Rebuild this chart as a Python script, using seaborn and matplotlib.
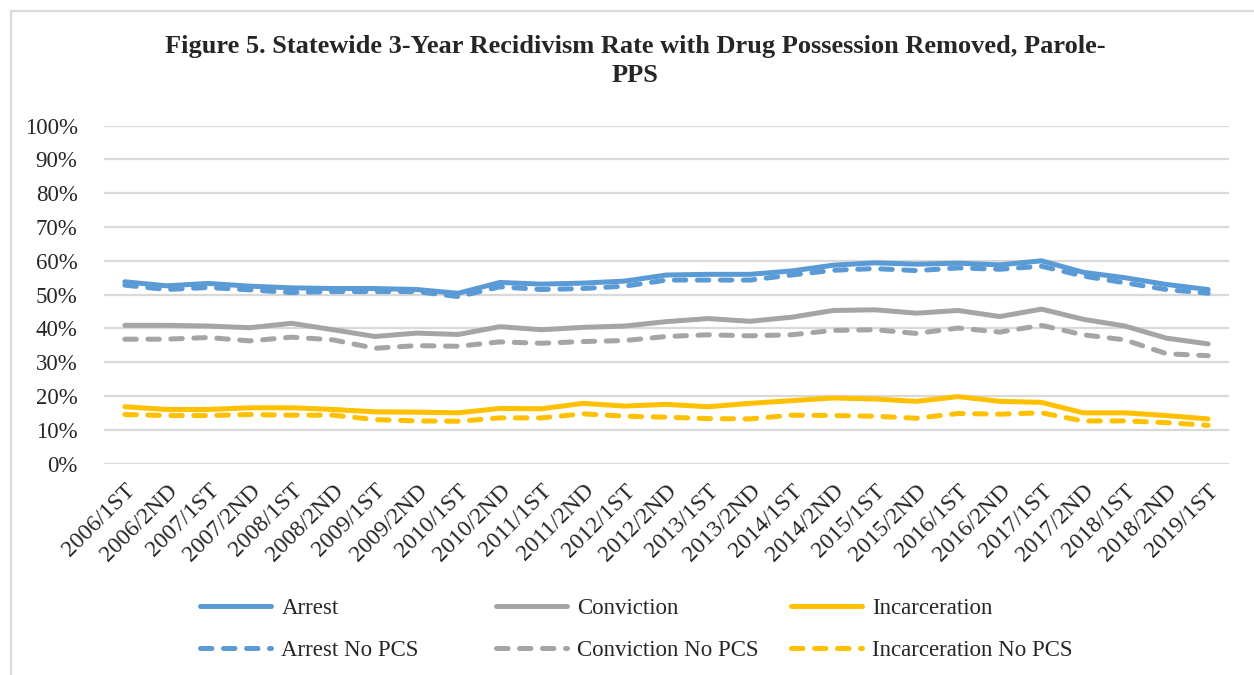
import matplotlib
matplotlib.use('Agg')
import matplotlib.pyplot as plt
import pandas as pd
import seaborn as sns
from matplotlib.lines import Line2D
from matplotlib.ticker import PercentFormatter

periods = ['2006/1ST', '2006/2ND', '2007/1ST', '2007/2ND', '2008/1ST', '2008/2ND',
           '2009/1ST', '2009/2ND', '2010/1ST', '2010/2ND', '2011/1ST', '2011/2ND',
           '2012/1ST', '2012/2ND', '2013/1ST', '2013/2ND', '2014/1ST', '2014/2ND',
           '2015/1ST', '2015/2ND', '2016/1ST', '2016/2ND', '2017/1ST', '2017/2ND',
           '2018/1ST', '2018/2ND', '2019/1ST']

arrest = [53.8, 52.6, 53.3, 52.5, 52.0, 51.8, 51.8, 51.5, 50.4, 53.6, 53.1, 53.4, 54.0, 55.8,
          56.0, 56.0, 57.0, 58.7, 59.4, 59.0, 59.3, 58.8, 60.0, 56.6, 55.0, 53.0, 51.5]
arrest_no_pcs = [52.8, 51.5, 52.1, 51.4, 50.6, 50.9, 50.9, 50.9, 49.4, 52.3, 51.5, 51.8, 52.5,
                 54.3, 54.3, 54.3, 55.8, 57.2, 57.7, 57.1, 57.9, 57.5, 58.4, 55.5, 53.5, 51.5,
                 50.4]
conviction = [40.9, 40.9, 40.7, 40.2, 41.5, 39.6, 37.6, 38.6, 38.2, 40.5, 39.6, 40.3, 40.7,
              42.0, 42.9, 42.1, 43.3, 45.3, 45.5, 44.5, 45.3, 43.5, 45.7, 42.7, 40.7, 37.1,
              35.4]
conviction_no_pcs = [36.8, 36.8, 37.3, 36.3, 37.4, 36.6, 34.1, 34.9, 34.7, 36.0, 35.6, 36.1,
                     36.4, 37.6, 38.1, 37.8, 38.1, 39.4, 39.6, 38.5, 40.1, 38.9, 40.9, 38.1,
                     36.6, 32.5, 31.9]
incarceration = [16.8, 16.0, 16.0, 16.5, 16.5, 16.0, 15.3, 15.2, 15.0, 16.3, 16.2, 17.8, 17.0,
                 17.5, 16.8, 17.8, 18.6, 19.4, 19.1, 18.4, 19.8, 18.4, 18.1, 15.0, 15.0, 14.2,
                 13.2]
incarceration_no_pcs = [14.5, 14.2, 14.2, 14.5, 14.3, 14.3, 13.0, 12.6, 12.5, 13.5, 13.5, 14.7,
                        14.0, 13.7, 13.3, 13.2, 14.3, 14.2, 14.0, 13.4, 14.8, 14.6, 15.0, 12.6,
                        12.6, 12.1, 11.3]

blue = '#5B9BD5'
grey = '#A5A5A5'
gold = '#FFC000'
grid_c = '#D9D9D9'
dash = (0, (2.3, 2.3))

series = [
    ('Arrest', arrest, blue, '-'),
    ('Conviction', conviction, grey, '-'),
    ('Incarceration', incarceration, gold, '-'),
    ('Arrest No PCS', arrest_no_pcs, blue, dash),
    ('Conviction No PCS', conviction_no_pcs, grey, dash),
    ('Incarceration No PCS', incarceration_no_pcs, gold, dash),
]

sns.set_style('white')
plt.rcParams['font.family'] = ['Liberation Serif', 'DejaVu Serif']

fig = plt.figure(figsize=(12.54, 6.75), dpi=100)
ax = fig.add_axes([104 / 1254, 1 - 463.5 / 675, 1125 / 1254, 337.8 / 675])

lw = 3.6
handles = {}
for name, vals, col, ls in series:
    df = pd.DataFrame({'period': periods, 'value': vals})
    sns.lineplot(data=df, x='period', y='value', ax=ax, color=col, linewidth=lw,
                 linestyle=ls, sort=False, dash_capstyle='round', solid_capstyle='round',
                 zorder=3)
    handles[name] = Line2D([], [], color=col, linewidth=lw, linestyle=ls,
                           dash_capstyle='round', solid_capstyle='round')

ax.set_xlim(-0.5, len(periods) - 0.5)
ax.set_ylim(0, 100)
ax.set_yticks(range(0, 101, 10))
ax.yaxis.set_major_formatter(PercentFormatter(100, decimals=0))
ax.grid(axis='y', color=grid_c, linewidth=1.6, zorder=0)
ax.grid(axis='x', visible=False)
for s in ax.spines.values():
    s.set_visible(False)
ax.set_xlabel('')
ax.set_ylabel('')
ax.tick_params(axis='y', length=0, pad=19, labelsize=16.5)
ax.tick_params(axis='x', length=0, pad=12, labelsize=17)
ax.set_xticks(range(len(periods)))
ax.set_xticklabels(periods, rotation=45, ha='right', rotation_mode='anchor')

fig.text(635 / 1254, 1 - 61 / 675,
         'Figure 5. Statewide 3-Year Recidivism Rate with Drug Possession Removed, Parole-\nPPS',
         ha='center', va='center', fontsize=19, fontweight='bold', linespacing=1.3)

# legend: three columns placed at Excel's equal spacing
for i, (a, b) in enumerate([('Arrest', 'Arrest No PCS'), ('Conviction', 'Conviction No PCS'),
                            ('Incarceration', 'Incarceration No PCS')]):
    x0 = (200 + 295.5 * i) / 1254
    leg = fig.legend([handles[a], handles[b]], [a, b], loc='upper left',
                     bbox_to_anchor=(x0, 1 - 598 / 675), frameon=False, fontsize=16.5,
                     handlelength=3.1, handletextpad=0.45, labelspacing=0.93,
                     borderpad=0, borderaxespad=0)

# outer chart border
fig.add_artist(Line2D([11 / 1254, 1], [1 - 11 / 675, 1 - 11 / 675], color=grid_c,
                      linewidth=1.6, transform=fig.transFigure))
fig.add_artist(Line2D([11 / 1254, 11 / 1254], [0, 1 - 11 / 675], color=grid_c,
                      linewidth=1.6, transform=fig.transFigure))

fig.savefig('out.png', dpi=100)
